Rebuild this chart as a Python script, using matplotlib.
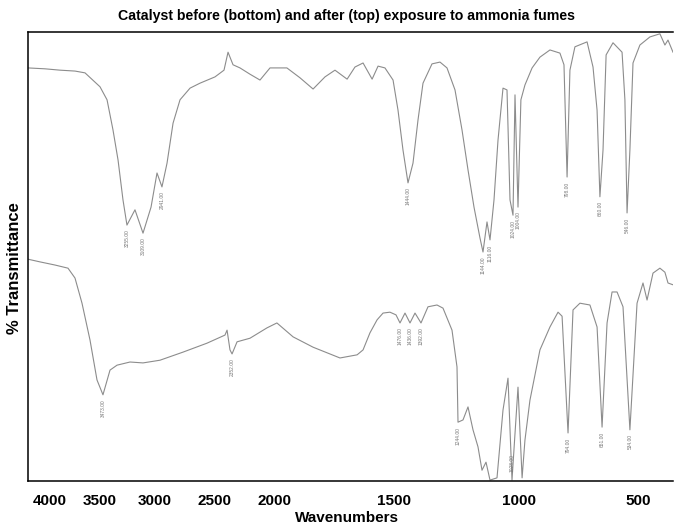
import numpy as np
import matplotlib
matplotlib.use("Agg")
import matplotlib.pyplot as plt
from matplotlib.scale import FuncScale

plt.rcParams['font.family'] = ['Liberation Sans', 'DejaVu Sans']

# Espectro de cima (depois da exposição à amônia)
top_wn = [4220, 4050, 3900, 3750, 3650, 3500, 3436, 3382, 3336, 3291, 3255, 3182, 3109,
          3036, 2983, 2941, 2898, 2847, 2788, 2703, 2619, 2492, 2418, 2385, 2344, 2287,
          2205, 2123, 2041, 1950, 1895, 1840, 1790, 1748, 1697, 1664, 1630, 1592, 1567,
          1538, 1504, 1484, 1464, 1444, 1424, 1404, 1384, 1348, 1316, 1288, 1256, 1228,
          1204, 1180, 1156, 1144, 1128, 1116, 1100, 1084, 1064, 1048, 1036, 1024, 1016,
          1004, 992, 975, 945, 912, 870, 828, 811, 798, 786, 765, 714, 689, 672, 660, 647,
          634, 605, 567, 555, 546, 534, 521, 492, 450, 408, 387, 374, 353]
top_t = [92.0, 91.8, 91.5, 91.3, 90.9, 87.8, 84.9, 78.2, 71.5, 62.6, 57.0, 60.4, 55.2,
         61.0, 68.6, 65.5, 70.8, 79.7, 84.9, 87.5, 88.6, 90.0, 91.5, 95.5, 92.7, 92.0,
         90.6, 89.3, 92.0, 92.0, 89.8, 87.3, 90.0, 91.5, 89.5, 92.2, 93.1, 89.5, 92.4,
         92.0, 89.3, 82.6, 73.7, 66.4, 70.8, 80.4, 88.6, 92.9, 93.3, 92.0, 87.1, 78.2,
         69.3, 61.0, 54.1, 51.0, 57.7, 53.7, 62.6, 75.9, 87.5, 87.1, 62.6, 59.2, 86.0,
         61.0, 84.9, 88.2, 92.0, 94.4, 96.0, 95.3, 92.7, 67.7, 91.5, 96.7, 97.8, 92.2,
         82.6, 63.3, 73.7, 94.9, 97.6, 95.5, 84.9, 59.7, 73.7, 93.1, 97.1, 98.9, 99.6,
         97.1, 98.2, 95.5]

# Espectro de baixo (antes da exposição)
bot_wn = [4220, 4100, 3950, 3820, 3750, 3680, 3600, 3530, 3473, 3409, 3345, 3227, 3109,
          2958, 2763, 2559, 2410, 2393, 2369, 2352, 2311, 2205, 2066, 1992, 1924, 1840,
          1727, 1655, 1630, 1601, 1571, 1546, 1517, 1492, 1476, 1456, 1436, 1416, 1392,
          1364, 1328, 1304, 1268, 1248, 1244, 1224, 1204, 1184, 1164, 1148, 1132, 1116,
          1088, 1064, 1044, 1028, 1004, 987, 975, 954, 912, 870, 836, 819, 794, 773, 744,
          702, 672, 651, 630, 609, 588, 563, 534, 504, 479, 462, 437, 408, 387, 374, 353]
bot_t = [49.4, 48.8, 48.1, 47.4, 45.2, 39.6, 31.4, 22.5, 19.2, 24.7, 25.8, 26.5, 26.3,
         26.9, 28.7, 30.7, 32.5, 33.6, 29.2, 28.3, 31.0, 31.8, 34.1, 35.2, 32.1, 29.8,
         27.4, 28.1, 29.2, 33.0, 35.9, 37.4, 37.6, 37.0, 35.2, 37.4, 35.2, 37.4, 35.2,
         38.8, 39.2, 38.5, 33.6, 25.4, 13.1, 13.6, 16.5, 11.4, 7.6, 2.4, 4.2, 0.2,
         0.7, 15.8, 22.9, 0.2, 20.9, 0.7, 9.1, 18.0, 29.2, 34.3, 37.6, 36.7, 10.7, 38.1,
         39.6, 39.2, 34.3, 12.0, 35.2, 42.1, 42.1, 38.8, 11.4, 39.6, 44.1, 40.3, 46.3,
         47.4, 46.5, 44.1, 43.7]

# Picos marcados
top_peaks = [3255, 3109, 2941, 1444, 1144, 1116, 1024, 1004, 798, 660, 546]
bot_peaks = [3473, 2352, 1476, 1436, 1392, 1244, 1028, 794, 651, 534]

tick_wn = [4000, 3500, 3000, 2500, 2000, 1500, 1000, 500]

# Escala do eixo x (não linear, igual ao espectro original)
anchor_wn = np.array([4220, 4000, 3500, 3000, 2500, 2000, 1500, 1000, 500, 353], float)
anchor_pos = np.array([28, 50, 100, 155, 214, 275, 394, 519, 638, 673], float)


def forward(x):
    # crescente com o número de onda; o eixo é invertido pelo xlim
    return -np.interp(-np.asarray(x, float), -anchor_wn, anchor_pos)


def inverse(p):
    return np.interp(-np.asarray(p, float), anchor_pos, anchor_wn)


fig = plt.figure(figsize=(6.74, 5.26), dpi=100)
ax = fig.add_axes([28 / 674, 45 / 526, 645 / 674, 449 / 526])
ax.set_xscale(FuncScale(ax, (forward, inverse)))

line_col = '#8c8c8c'
ax.plot(top_wn, top_t, color=line_col, lw=0.8)
ax.plot(bot_wn, bot_t, color=line_col, lw=0.8)

# Rótulos dos picos
for wn in top_peaks:
    t = np.interp(-wn, -np.array(top_wn), top_t)
    ax.text(wn, t - 1.0, f"{wn:.2f}", rotation=90, fontsize=3.5, color='#777777',
            ha='center', va='top')
for wn in bot_peaks:
    t = np.interp(-wn, -np.array(bot_wn), bot_t)
    ax.text(wn, max(t - 1.0, 6), f"{wn:.2f}", rotation=90, fontsize=3.5, color='#777777',
            ha='center', va='top')

ax.set_xlim(4220, 353)
ax.set_ylim(0, 100)
ax.set_xticks(tick_wn)
ax.set_xticklabels([str(v) for v in tick_wn], fontweight='bold', fontsize=11)
ax.tick_params(axis='x', length=0, pad=9.5)
ax.set_yticks([])
ax.spines['right'].set_visible(False)
for s in ['left', 'top', 'bottom']:
    ax.spines[s].set_linewidth(1.1)

fig.text(347 / 674, 1 - 20 / 526, 'Catalyst before (bottom) and after (top) exposure to ammonia fumes',
         ha='center', va='baseline', fontsize=10.2, fontweight='bold')
fig.text(347 / 674, 1 - 518 / 526, 'Wavenumbers', ha='center', va='center',
         fontsize=11, fontweight='bold')
fig.text(15 / 674, 1 - 268 / 526, '% Transmittance', ha='center', va='center',
         rotation=90, fontsize=12, fontweight='bold')

fig.savefig('out.png', dpi=100)
